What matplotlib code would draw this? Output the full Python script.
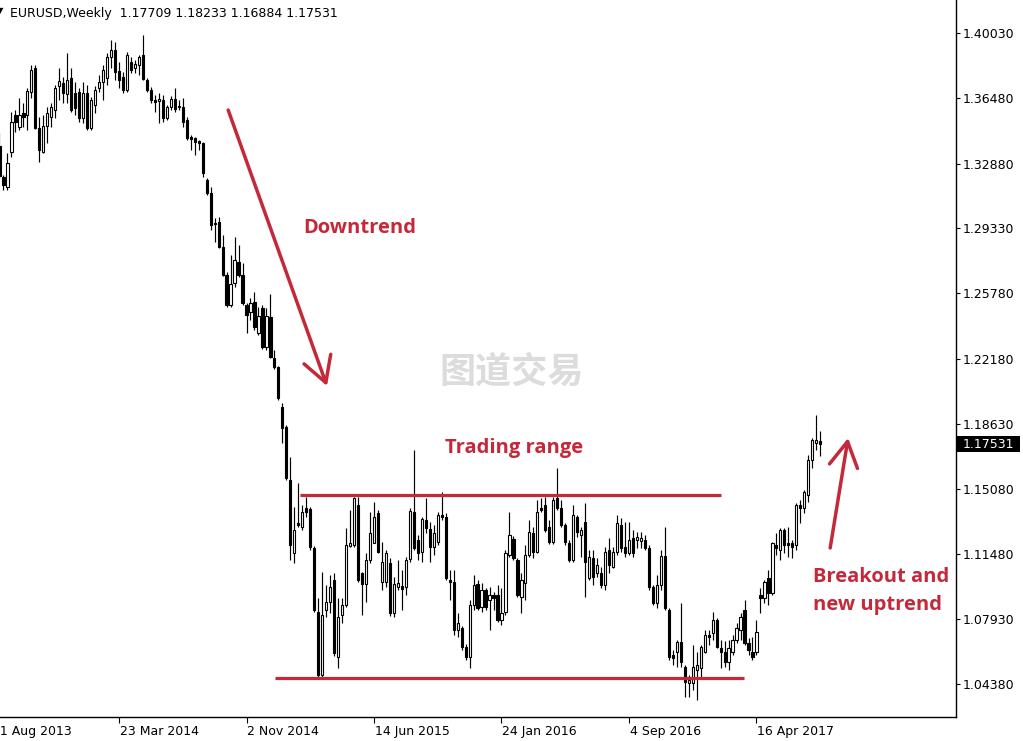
import matplotlib
matplotlib.use('Agg')
import matplotlib.pyplot as plt
import matplotlib.patches as patches
import numpy as np

# weekly EURUSD candles, 25 Aug 2013 .. 6 Aug 2017
open_ = [
    1.3384, 1.3214, 1.3160, 1.3351, 1.3554, 1.3488, 1.3565, 1.3554, 1.3680, 1.3811,
    1.3483, 1.3351, 1.3494, 1.3543, 1.3581, 1.3713, 1.3729, 1.3669, 1.3757, 1.3674,
    1.3680, 1.3538, 1.3674, 1.3483, 1.3609, 1.3702, 1.3735, 1.3757, 1.3872, 1.3910,
    1.3795, 1.3762, 1.3691, 1.3844, 1.3811, 1.3828, 1.3883, 1.3746, 1.3691, 1.3636,
    1.3631, 1.3636, 1.3538, 1.3598, 1.3642, 1.3598, 1.3598, 1.3527, 1.3434, 1.3428,
    1.3412, 1.3401, 1.3198, 1.3127, 1.2963, 1.2968, 1.2831, 1.2678, 1.2513, 1.2634,
    1.2749, 1.2678, 1.2513, 1.2475, 1.2530, 1.2360, 1.2497, 1.2283, 1.2448, 1.2223,
    1.2174, 1.1955, 1.1845, 1.1555, 1.1155, 1.1320, 1.1298, 1.1402, 1.1397, 1.1183,
    1.0832, 1.0487, 1.0843, 1.0887, 1.1008, 1.0586, 1.0816, 1.0871, 1.1194, 1.1199,
    1.1418, 1.1046, 1.0986, 1.1117, 1.1210, 1.1375, 1.0997, 1.0997, 1.1101, 1.0827,
    1.0969, 1.0975, 1.0969, 1.1123, 1.1380, 1.1227, 1.1161, 1.1336, 1.1287, 1.1188,
    1.1216, 1.1364, 1.1353, 1.1008, 1.0997, 1.0734, 1.0745, 1.0640, 1.0586, 1.0871,
    1.0986, 1.0860, 1.0953, 1.0898, 1.0925, 1.0925, 1.0789, 1.0832, 1.1145, 1.1232,
    1.1117, 1.0914, 1.0991, 1.1145, 1.1265, 1.1161, 1.1402, 1.1418, 1.1298, 1.1216,
    1.1457, 1.1402, 1.1309, 1.1210, 1.1117, 1.1353, 1.1254, 1.1325, 1.1019, 1.1128,
    1.1046, 1.1046, 1.0980, 1.1172, 1.1079, 1.1161, 1.1309, 1.1188, 1.1155, 1.1238,
    1.1227, 1.1221, 1.1227, 1.1183, 1.0969, 1.0882, 1.0980, 1.1139, 1.0843, 1.0597,
    1.0613, 1.0668, 1.0531, 1.0444, 1.0444, 1.0515, 1.0526, 1.0613, 1.0706, 1.0717,
    1.0789, 1.0635, 1.0613, 1.0559, 1.0613, 1.0679, 1.0734, 1.0843, 1.0662, 1.0613,
    1.0613, 1.0925, 1.0909, 1.1019, 1.0936, 1.1199, 1.1172, 1.1281, 1.1210, 1.1210,
    1.1199, 1.1418, 1.1402, 1.1473, 1.1665, 1.1758, 1.17709,
]
high = [
    1.3455, 1.3225, 1.3346, 1.3570, 1.3581, 1.3647, 1.3620, 1.3702, 1.3828, 1.3828,
    1.3543, 1.3554, 1.3598, 1.3620, 1.3718, 1.3811, 1.3762, 1.3893, 1.3811, 1.3735,
    1.3702, 1.3735, 1.3718, 1.3653, 1.3713, 1.3773, 1.3828, 1.3893, 1.3965, 1.3954,
    1.3844, 1.3789, 1.3899, 1.3872, 1.3855, 1.3883, 1.3992, 1.3757, 1.3707, 1.3664,
    1.3674, 1.3664, 1.3609, 1.3658, 1.3702, 1.3636, 1.3647, 1.3543, 1.3444, 1.3434,
    1.3417, 1.3405, 1.3209, 1.3160, 1.2990, 1.2995, 1.2897, 1.2694, 1.2787, 1.2886,
    1.2842, 1.2744, 1.2524, 1.2552, 1.2585, 1.2503, 1.2513, 1.2497, 1.2574, 1.2267,
    1.2180, 1.1977, 1.1856, 1.1681, 1.1407, 1.1539, 1.1418, 1.1462, 1.1407, 1.1194,
    1.0909, 1.1051, 1.0980, 1.1035, 1.1046, 1.0909, 1.0909, 1.1292, 1.1391, 1.1462,
    1.1462, 1.1051, 1.1155, 1.1380, 1.1435, 1.1391, 1.1216, 1.1172, 1.1128, 1.1024,
    1.1117, 1.1062, 1.1134, 1.1402, 1.1719, 1.1254, 1.1353, 1.1457, 1.1325, 1.1309,
    1.1380, 1.1490, 1.1375, 1.1062, 1.1062, 1.0827, 1.0756, 1.0657, 1.0898, 1.1035,
    1.1008, 1.0991, 1.0964, 1.0969, 1.0942, 1.0980, 1.0964, 1.1172, 1.1380, 1.1249,
    1.1128, 1.1046, 1.1199, 1.1336, 1.1298, 1.1446, 1.1457, 1.1462, 1.1336, 1.1462,
    1.1621, 1.1446, 1.1320, 1.1227, 1.1418, 1.1364, 1.1298, 1.1429, 1.1172, 1.1172,
    1.1128, 1.1079, 1.1188, 1.1238, 1.1188, 1.1364, 1.1347, 1.1325, 1.1325, 1.1281,
    1.1270, 1.1270, 1.1254, 1.1199, 1.0980, 1.1035, 1.1172, 1.1298, 1.0854, 1.0624,
    1.0679, 1.0882, 1.0542, 1.0487, 1.0651, 1.0613, 1.0651, 1.0734, 1.0734, 1.0832,
    1.0800, 1.0679, 1.0673, 1.0679, 1.0706, 1.0772, 1.0827, 1.0898, 1.0690, 1.0695,
    1.0789, 1.0964, 1.1008, 1.1062, 1.1216, 1.1265, 1.1292, 1.1292, 1.1298, 1.1227,
    1.1429, 1.1446, 1.1501, 1.1693, 1.1785, 1.1911, 1.18233,
]
low = [
    1.3209, 1.3143, 1.3143, 1.3324, 1.3461, 1.3472, 1.3488, 1.3472, 1.3647, 1.3477,
    1.3297, 1.3346, 1.3401, 1.3488, 1.3538, 1.3636, 1.3620, 1.3620, 1.3570, 1.3554,
    1.3516, 1.3510, 1.3472, 1.3472, 1.3565, 1.3680, 1.3636, 1.3718, 1.3811, 1.3746,
    1.3702, 1.3674, 1.3680, 1.3784, 1.3784, 1.3773, 1.3746, 1.3680, 1.3620, 1.3570,
    1.3510, 1.3516, 1.3527, 1.3581, 1.3570, 1.3581, 1.3488, 1.3417, 1.3362, 1.3335,
    1.3362, 1.3214, 1.3116, 1.2924, 1.2859, 1.2826, 1.2672, 1.2503, 1.2503, 1.2612,
    1.2667, 1.2513, 1.2360, 1.2431, 1.2377, 1.2349, 1.2273, 1.2267, 1.2223, 1.2163,
    1.1993, 1.1758, 1.1555, 1.1117, 1.1101, 1.1298, 1.1281, 1.1353, 1.1172, 1.0832,
    1.0476, 1.0476, 1.0805, 1.0827, 1.0591, 1.0526, 1.0772, 1.0860, 1.1188, 1.1188,
    1.0997, 1.0816, 1.0887, 1.1101, 1.1210, 1.1155, 1.0953, 1.0969, 1.0810, 1.0805,
    1.0953, 1.0843, 1.0925, 1.1106, 1.1170, 1.1117, 1.1106, 1.1265, 1.1106, 1.1145,
    1.1199, 1.1336, 1.1008, 1.0898, 1.0706, 1.0695, 1.0624, 1.0570, 1.0526, 1.0843,
    1.0843, 1.0832, 1.0843, 1.0734, 1.0843, 1.0778, 1.0761, 1.0816, 1.1134, 1.1117,
    1.0914, 1.0827, 1.0898, 1.1134, 1.1128, 1.1155, 1.1380, 1.1270, 1.1205, 1.1205,
    1.1391, 1.1298, 1.1199, 1.1106, 1.1106, 1.1243, 1.1134, 1.0914, 1.1008, 1.0980,
    1.1024, 1.0964, 1.0953, 1.1046, 1.1073, 1.1145, 1.1161, 1.1134, 1.1145, 1.1134,
    1.1183, 1.1183, 1.1172, 1.0953, 1.0871, 1.0854, 1.0953, 1.0843, 1.0570, 1.0542,
    1.0531, 1.0531, 1.0367, 1.0367, 1.0405, 1.0351, 1.0476, 1.0608, 1.0651, 1.0679,
    1.0635, 1.0526, 1.0531, 1.0515, 1.0597, 1.0662, 1.0679, 1.0651, 1.0597, 1.0570,
    1.0597, 1.0827, 1.0882, 1.0871, 1.0925, 1.1145, 1.1117, 1.1155, 1.1134, 1.1128,
    1.1172, 1.1320, 1.1375, 1.1435, 1.1621, 1.1719, 1.16884,
]
close = [
    1.3220, 1.3171, 1.3291, 1.3516, 1.3516, 1.3554, 1.3543, 1.3685, 1.3800, 1.3483,
    1.3362, 1.3494, 1.3565, 1.3598, 1.3702, 1.3740, 1.3674, 1.3746, 1.3581, 1.3592,
    1.3538, 1.3674, 1.3483, 1.3636, 1.3691, 1.3735, 1.3800, 1.3872, 1.3910, 1.3789,
    1.3746, 1.3691, 1.3883, 1.3800, 1.3833, 1.3872, 1.3751, 1.3691, 1.3636, 1.3625,
    1.3642, 1.3538, 1.3598, 1.3642, 1.3587, 1.3603, 1.3516, 1.3428, 1.3423, 1.3406,
    1.3401, 1.3236, 1.3127, 1.2952, 1.2957, 1.2831, 1.2678, 1.2513, 1.2629, 1.2760,
    1.2678, 1.2524, 1.2459, 1.2524, 1.2393, 1.2453, 1.2283, 1.2453, 1.2229, 1.2174,
    1.2004, 1.1840, 1.1566, 1.1199, 1.1281, 1.1309, 1.1380, 1.1380, 1.1188, 1.0843,
    1.0487, 1.0816, 1.0887, 1.0969, 1.0608, 1.0805, 1.0871, 1.1199, 1.1210, 1.1457,
    1.1008, 1.0986, 1.1117, 1.1265, 1.1353, 1.1161, 1.1106, 1.1155, 1.0827, 1.0986,
    1.0991, 1.0959, 1.1117, 1.1386, 1.1183, 1.1155, 1.1342, 1.1292, 1.1188, 1.1265,
    1.1364, 1.1353, 1.1019, 1.0997, 1.0734, 1.0772, 1.0640, 1.0586, 1.0871, 1.0980,
    1.0854, 1.0953, 1.0860, 1.0925, 1.0909, 1.0789, 1.0827, 1.1155, 1.1254, 1.1128,
    1.0925, 1.1008, 1.1145, 1.1270, 1.1161, 1.1380, 1.1391, 1.1281, 1.1216, 1.1446,
    1.1402, 1.1309, 1.1216, 1.1117, 1.1364, 1.1270, 1.1281, 1.1106, 1.1134, 1.1024,
    1.1090, 1.0980, 1.1161, 1.1090, 1.1161, 1.1320, 1.1183, 1.1155, 1.1227, 1.1155,
    1.1243, 1.1238, 1.1183, 1.0969, 1.0882, 1.0980, 1.1139, 1.0854, 1.0586, 1.0580,
    1.0668, 1.0559, 1.0449, 1.0460, 1.0531, 1.0542, 1.0640, 1.0706, 1.0695, 1.0789,
    1.0640, 1.0613, 1.0559, 1.0635, 1.0679, 1.0745, 1.0805, 1.0662, 1.0624, 1.0586,
    1.0723, 1.0909, 1.0997, 1.0936, 1.1210, 1.1183, 1.1281, 1.1199, 1.1199, 1.1188,
    1.1418, 1.1402, 1.1490, 1.1665, 1.1774, 1.1774, 1.17531,
]

# axis labels (bar index of each date label, counted from 25 Aug 2013)
date_ticks = [-2, 30, 62, 94, 126, 158, 190]
date_labels = ['11 Aug 2013', '23 Mar 2014', '2 Nov 2014', '14 Jun 2015',
               '24 Jan 2016', '4 Sep 2016', '16 Apr 2017']
price_ticks = [1.04380, 1.07930, 1.11480, 1.15080, 1.18630, 1.22180,
               1.25780, 1.29330, 1.32880, 1.36480, 1.40030]
last_price = 1.17531

RED = '#c4293a'

o = np.array(open_)
h = np.array(high)
l = np.array(low)
c = np.array(close)
x = np.arange(len(c))

fig = plt.figure(figsize=(10.23, 7.41), dpi=100, facecolor='white')
ax = fig.add_axes([0, 24 / 741, 956 / 1023, 717 / 741])

# candles
up = c >= o
bottom = np.minimum(o, c)
body = np.maximum(np.abs(c - o), 0.00015)
ax.vlines(x, l, h, color='black', linewidth=0.85, zorder=2)
ax.bar(x, body, bottom=bottom, width=0.55,
       color=np.where(up, 'white', 'black'), edgecolor='black',
       linewidth=0.8, zorder=3)

ax.set_xlim(0.1255, 240.08)
ax.set_ylim(1.02571, 1.41837)

for s in ['top', 'left']:
    ax.spines[s].set_visible(False)
ax.spines['right'].set_linewidth(1.0)
ax.spines['bottom'].set_linewidth(1.0)

ax.yaxis.tick_right()
ax.set_yticks(price_ticks)
ax.set_yticklabels(['%.5f' % v for v in price_ticks])
ax.tick_params(axis='y', length=3, width=0.8, pad=2, labelsize=9)
ax.set_xticks([t for t in date_ticks if t >= 0])
ax.set_xticklabels([])
ax.tick_params(axis='x', length=4, width=0.8)
for t, lab in zip(date_ticks, date_labels):
    ax.annotate(lab, xy=(t, 0), xycoords=ax.get_xaxis_transform(),
                xytext=(0.5, -5.5), textcoords='offset points',
                ha='left', va='top', fontsize=9, annotation_clip=False)

# current price tag
fig.patches.append(patches.Rectangle((957 / 1023, (741 - 452) / 741), 63 / 1023, 16 / 741,
                                     transform=fig.transFigure, facecolor='black',
                                     edgecolor='none'))
fig.text(963 / 1023, (741 - 444) / 741, '%.5f' % last_price, color='white',
         fontsize=9, va='center', ha='left')

# header
fig.text(-3 / 1023, (741 - 11) / 741, '\u25bc', fontsize=6, va='center')
fig.text(10 / 1023, (741 - 13) / 741,
         'EURUSD,Weekly  1.17709 1.18233 1.16884 1.17531',
         fontsize=9, va='center', ha='left')

# watermark
ax.text(128.6, 1.2147, '图道交易', fontsize=26, fontweight='bold', color='#dcdcdc',
        ha='center', va='center', family=['Noto Sans CJK SC', 'DejaVu Sans'], zorder=1)

# trading range lines
ax.plot([75.4, 181.1], [1.1473, 1.1473], color=RED, linewidth=2.3, zorder=4,
        solid_capstyle='butt')
ax.plot([69.1, 186.9], [1.0471, 1.0471], color=RED, linewidth=2.3, zorder=4,
        solid_capstyle='butt')

# arrows
arrow_kw = dict(arrowstyle='->,head_length=1.5,head_width=0.85', color=RED,
                lw=2.5, mutation_scale=12, shrinkA=0, shrinkB=0)
ax.annotate('', xy=(82.2, 1.2070), xytext=(57.4, 1.3581), arrowprops=arrow_kw)
ax.annotate('', xy=(213.0, 1.1785), xytext=(208.5, 1.1183), arrowprops=arrow_kw)

font_kw = dict(fontsize=14.5, fontweight='bold', color=RED, family='Open Sans',
               ha='left', va='baseline')
ax.text(76.2, 1.2908, 'Downtrend', **font_kw)
ax.text(111.8, 1.1703, 'Trading range', **font_kw)
ax.text(204.2, 1.0997, 'Breakout and', clip_on=False, **font_kw)
ax.text(204.2, 1.0843, 'new uptrend', clip_on=False, **font_kw)

fig.savefig('out.png', dpi=100, facecolor='white')
